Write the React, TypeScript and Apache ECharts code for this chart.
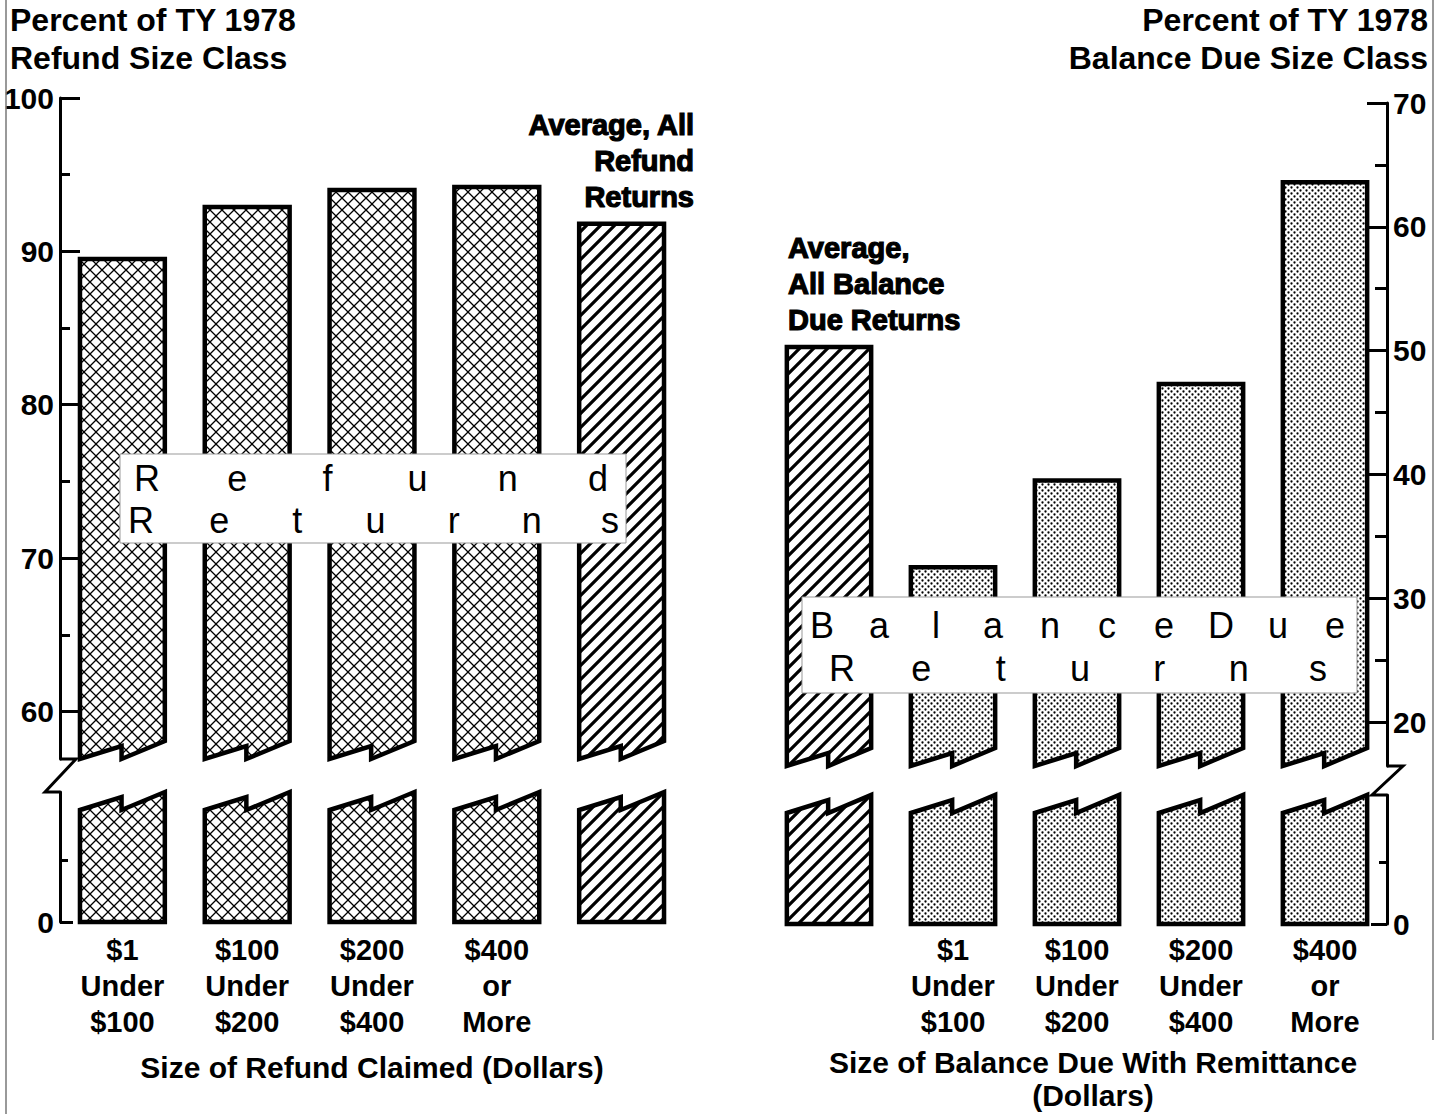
import React, { useEffect, useRef } from "react";
import * as echarts from "echarts";

// ---------- data ----------
const LEFT_CATEGORIES = ["$1\nUnder\n$100", "$100\nUnder\n$200", "$200\nUnder\n$400", "$400\nor\nMore", ""];
const LEFT_VALUES = [89.5, 92.9, 94.0, 94.2, 91.8];
const LEFT_KINDS = ["cross", "cross", "cross", "cross", "diag"];

const RIGHT_CATEGORIES = ["", "$1\nUnder\n$100", "$100\nUnder\n$200", "$200\nUnder\n$400", "$400\nor\nMore"];
const RIGHT_VALUES = [50.3, 32.5, 39.5, 47.3, 63.6];
const RIGHT_KINDS = ["diag", "dots", "dots", "dots", "dots"];

const LEFT_MAJOR_TICKS = [60, 70, 80, 90, 100];
const LEFT_MINOR_TICKS = [65, 75, 85, 95];
const LEFT_LOWER_TICKS = [0];
const LEFT_LOWER_MINOR = [4];
const RIGHT_MAJOR_TICKS = [20, 30, 40, 50, 60, 70];
const RIGHT_MINOR_TICKS = [25, 35, 45, 55, 65];
const RIGHT_LOWER_TICKS = [0];
const RIGHT_LOWER_MINOR = [5];

const LEFT_TITLE = "Percent of TY 1978\nRefund Size Class";
const RIGHT_TITLE = "Percent of TY 1978\nBalance Due Size Class";
const LEFT_AXIS_NAME = "Size of Refund Claimed (Dollars)";
const RIGHT_AXIS_NAME = "Size of Balance Due With Remittance\n(Dollars)";
const LEFT_NOTE = "Average, All\nRefund\nReturns";
const RIGHT_NOTE = "Average,\nAll Balance\nDue Returns";
const LEFT_BOX_LINES = ["Refund", "Returns"];
const RIGHT_BOX_LINES = ["BalanceDue", "Returns"];

// ---------- styling ----------
const FONT = '"Liberation Sans", Arial, Helvetica, sans-serif';

function svgPattern(inner: string, size: number) {
  const svg =
    `<svg xmlns='http://www.w3.org/2000/svg' width='${size}' height='${size}'>` +
    `<rect width='${size}' height='${size}' fill='white'/>${inner}</svg>`;
  return {
    image: "data:image/svg+xml;charset=utf-8," + encodeURIComponent(svg),
    repeat: "repeat",
    imageWidth: size,
    imageHeight: size,
  };
}

const PATTERNS: Record<string, any> = {
  cross: svgPattern("<path d='M0 0L12 12M12 0L0 12' stroke='black' stroke-width='1.3' fill='none'/>", 12),
  diag: svgPattern(
    "<path d='M0 14L14 0M-2 2L2 -2M12 16L16 12' stroke='black' stroke-width='3.2' fill='none'/>",
    14
  ),
  dots: svgPattern(
    "<circle cx='1.5' cy='1.5' r='1.15' fill='black'/><circle cx='4.5' cy='4.5' r='1.15' fill='black'/>",
    6
  ),
};

const BAR_STROKE = { stroke: "#000", lineWidth: 4.5, lineJoin: "miter" };

function barGeom(api: any, i: number, v: number) {
  const p = api.coord([i, v]);
  const band = api.size([1, 0])[0];
  const w = band * 0.68;
  const x0 = p[0] - w / 2;
  const x1 = p[0] + w / 2;
  const xm = x0 + w * 0.49;
  return { x0, x1, xm, top: p[1] };
}

function upperRender(kinds: string[]) {
  return (params: any, api: any) => {
    const i = api.value(0);
    const v = api.value(1);
    const g = barGeom(api, i, v);
    const U = params.coordSys.y + params.coordSys.height;
    return {
      type: "polygon",
      shape: {
        points: [
          [g.x0, g.top],
          [g.x1, g.top],
          [g.x1, U - 18],
          [g.xm, U],
          [g.xm, U - 13],
          [g.x0, U],
        ],
      },
      style: { fill: PATTERNS[kinds[params.dataIndex]], ...BAR_STROKE },
    };
  };
}

function lowerRender(kinds: string[], side: "left" | "right", gap: number) {
  return (params: any, api: any) => {
    const i = api.value(0);
    const g = barGeom(api, i, 0);
    const T = params.coordSys.y;
    const B = g.top;
    const poly = {
      type: "polygon",
      shape: {
        points: [
          [g.x0, T + 18],
          [g.xm, T + 5],
          [g.xm, T + 18],
          [g.x1, T],
          [g.x1, B],
          [g.x0, B],
        ],
      },
      style: { fill: PATTERNS[kinds[params.dataIndex]], ...BAR_STROKE },
    };
    const breakIdx = side === "left" ? 0 : kinds.length - 1;
    if (params.dataIndex !== breakIdx) return poly;
    const ax = side === "left" ? params.coordSys.x : params.coordSys.x + params.coordSys.width;
    return {
      type: "group",
      children: [
        poly,
        {
          type: "polyline",
          shape: {
            points: [
              [ax, T],
              [ax - 15, T],
              [ax + 16, T - gap],
              [ax, T - gap],
            ],
          },
          style: { stroke: "#000", lineWidth: 3, fill: "none" },
        },
      ],
    };
  };
}

function yAxisMajor(gridIndex: number, min: number, max: number, position: string, ticks: number[], labels: number[], tickLen: number) {
  return {
    type: "value",
    gridIndex,
    min,
    max,
    position,
    axisLine: { show: true, lineStyle: { color: "#000", width: 3 } },
    axisTick: { show: true, inside: true, length: tickLen, customValues: ticks, lineStyle: { color: "#000", width: 3 } },
    axisLabel: {
      show: labels.length > 0,
      customValues: labels,
      margin: 6,
      color: "#000",
      fontFamily: FONT,
      fontWeight: "bold",
      fontSize: 30,
    },
    splitLine: { show: false },
  };
}

function yAxisMinor(gridIndex: number, min: number, max: number, position: string, ticks: number[], tickLen: number) {
  return {
    type: "value",
    gridIndex,
    min,
    max,
    position,
    axisLine: { show: false },
    axisTick: { show: true, inside: true, length: tickLen, customValues: ticks, lineStyle: { color: "#000", width: 3 } },
    axisLabel: { show: false },
    splitLine: { show: false },
  };
}

function boxLetters(word: string, xStart: number, xEnd: number, y: number) {
  const letters = word.split("");
  const step = (xEnd - xStart) / (letters.length - 1);
  return letters.map((ch, k) => ({
    type: "text",
    z: 101,
    x: xStart + k * step,
    y,
    style: {
      text: ch,
      font: `36px ${FONT}`,
      fill: "#000",
      align: "center",
      verticalAlign: "middle",
    },
  }));
}

function noteText(text: string, x: number, y: number, align: string) {
  return {
    type: "text",
    z: 101,
    x,
    y,
    style: {
      text,
      font: `bold 29px ${FONT}`,
      fill: "#000",
      stroke: "#000",
      lineWidth: 1.2,
      align,
      verticalAlign: "top",
      lineHeight: 36,
    },
  };
}

function titleText(text: string, x: number, align: string) {
  return {
    type: "text",
    z: 101,
    x,
    y: 1,
    style: {
      text,
      font: `bold 32px ${FONT}`,
      fill: "#000",
      align,
      verticalAlign: "top",
      lineHeight: 38,
    },
  };
}

export default function App() {
  const ref = useRef<HTMLDivElement>(null);

  useEffect(() => {
    document.body.style.margin = "0";
    if (!ref.current) return;
    const chart = echarts.init(ref.current, undefined, { renderer: "svg" });

    const labelStyle = {
      color: "#000",
      fontFamily: FONT,
      fontWeight: "bold",
      fontSize: 29,
      lineHeight: 36,
    };
    const nameStyle = {
      color: "#000",
      fontFamily: FONT,
      fontWeight: "bold",
      fontSize: 30,
      lineHeight: 33,
    };

    const option: any = {
      animation: false,
      backgroundColor: "#fff",
      grid: [
        { left: 60, top: 98, width: 624, height: 661, outerBoundsMode: "none" },
        { left: 60, top: 792, width: 624, height: 130, outerBoundsMode: "none" },
        { left: 767, top: 103, width: 620, height: 663, outerBoundsMode: "none" },
        { left: 767, top: 795, width: 620, height: 129, outerBoundsMode: "none" },
      ],
      xAxis: [
        { type: "category", gridIndex: 0, data: LEFT_CATEGORIES, show: false },
        {
          type: "category",
          gridIndex: 1,
          data: LEFT_CATEGORIES,
          axisLine: { show: false },
          axisTick: { show: false },
          axisLabel: { ...labelStyle, interval: 0, margin: 10 },
          name: LEFT_AXIS_NAME,
          nameLocation: "middle",
          nameGap: 129,
          nameTextStyle: nameStyle,
        },
        { type: "category", gridIndex: 2, data: RIGHT_CATEGORIES, show: false },
        {
          type: "category",
          gridIndex: 3,
          data: RIGHT_CATEGORIES,
          axisLine: { show: false },
          axisTick: { show: false },
          axisLabel: { ...labelStyle, interval: 0, margin: 8 },
          name: RIGHT_AXIS_NAME,
          nameLocation: "middle",
          nameGap: 122,
          nameTextStyle: { ...nameStyle, padding: [0, 0, 0, 32] },
        },
      ],
      yAxis: [
        yAxisMajor(0, 56.9, 100, "left", LEFT_MAJOR_TICKS, LEFT_MAJOR_TICKS, 20),
        yAxisMinor(0, 56.9, 100, "left", LEFT_MINOR_TICKS, 10),
        yAxisMajor(1, 0, 8.47, "left", LEFT_LOWER_TICKS, LEFT_LOWER_TICKS, 13),
        yAxisMinor(1, 0, 8.47, "left", LEFT_LOWER_MINOR, 8),
        yAxisMajor(2, 16.45, 70, "right", RIGHT_MAJOR_TICKS, RIGHT_MAJOR_TICKS, 20),
        yAxisMinor(2, 16.45, 70, "right", RIGHT_MINOR_TICKS, 12),
        yAxisMajor(3, 0, 10.42, "right", RIGHT_LOWER_TICKS, RIGHT_LOWER_TICKS, 16),
        yAxisMinor(3, 0, 10.42, "right", RIGHT_LOWER_MINOR, 8),
      ],
      series: [
        {
          type: "custom",
          name: "Refund returns (upper)",
          xAxisIndex: 0,
          yAxisIndex: 0,
          clip: false,
          data: LEFT_VALUES.map((v, i) => [i, v]),
          renderItem: upperRender(LEFT_KINDS),
        },
        {
          type: "custom",
          name: "Refund returns (lower)",
          xAxisIndex: 1,
          yAxisIndex: 2,
          clip: false,
          data: LEFT_VALUES.map((v, i) => [i, v]),
          renderItem: lowerRender(LEFT_KINDS, "left", 33),
        },
        {
          type: "custom",
          name: "Balance due returns (upper)",
          xAxisIndex: 2,
          yAxisIndex: 4,
          clip: false,
          data: RIGHT_VALUES.map((v, i) => [i, v]),
          renderItem: upperRender(RIGHT_KINDS),
        },
        {
          type: "custom",
          name: "Balance due returns (lower)",
          xAxisIndex: 3,
          yAxisIndex: 6,
          clip: false,
          data: RIGHT_VALUES.map((v, i) => [i, v]),
          renderItem: lowerRender(RIGHT_KINDS, "right", 29),
        },
      ],
      graphic: [
        // scan page edges
        { type: "line", z: 1, shape: { x1: 6, y1: 0, x2: 6, y2: 1114 }, style: { stroke: "#777", lineWidth: 1.5 } },
        { type: "line", z: 1, shape: { x1: 1433, y1: 0, x2: 1433, y2: 1040 }, style: { stroke: "#777", lineWidth: 1.5 } },
        titleText(LEFT_TITLE, 10, "left"),
        titleText(RIGHT_TITLE, 1428, "right"),
        noteText(LEFT_NOTE, 694, 107, "right"),
        noteText(RIGHT_NOTE, 788, 230, "left"),
        {
          type: "rect",
          z: 100,
          shape: { x: 120, y: 454, width: 506, height: 89 },
          style: { fill: "#fff", stroke: "#999", lineWidth: 1 },
        },
        ...boxLetters(LEFT_BOX_LINES[0], 147, 598, 478),
        ...boxLetters(LEFT_BOX_LINES[1], 141, 610, 520),
        {
          type: "rect",
          z: 100,
          shape: { x: 802, y: 597, width: 555, height: 96 },
          style: { fill: "#fff", stroke: "#999", lineWidth: 1 },
        },
        ...boxLetters(RIGHT_BOX_LINES[0], 822, 1335, 625),
        ...boxLetters(RIGHT_BOX_LINES[1], 842, 1318, 668),
      ],
    };

    chart.setOption(option);
    return () => chart.dispose();
  }, []);

  return <div ref={ref} style={{ width: 1445, height: 1114 }} />;
}
